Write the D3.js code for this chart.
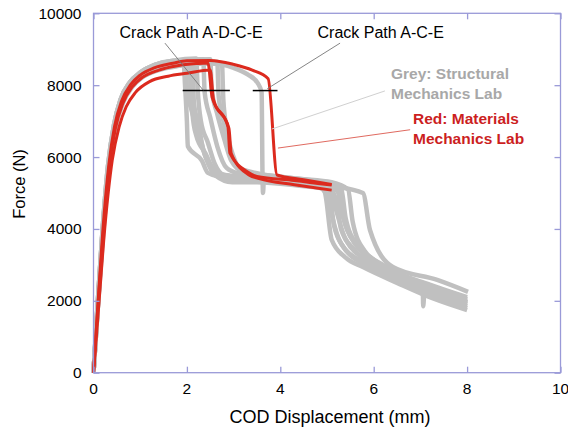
<!DOCTYPE html>
<html>
<head>
<meta charset="utf-8">
<script src="https://cdn.jsdelivr.net/npm/d3@7"></script>
<style>
  body { margin: 0; background: #fff; }
  text { font-family: "Liberation Sans", Arial, sans-serif; }
</style>
</head>
<body>
<svg id="chart" width="568" height="429"></svg>
<script>
// tick values
const xTicks = [0, 2, 4, 6, 8, 10];
const yTicks = [0, 2000, 4000, 6000, 8000, 10000];

// grey curves: Structural Mechanics Lab tests [COD mm, force N]
const grey1 = [[0,0],[0.09,1900],[0.19,3850],[0.32,5750],[0.45,6850],[0.6,7550],[0.8,8000],[1.0,8250],[1.3,8470],[1.93,8620],[1.96,8000],[2.0,7000],[2.02,6300],[2.32,5900],[2.45,5560],[2.9,5400],[3.5,5350],[4.3,5250],[4.85,5150],[4.95,5030],[5.1,3700],[5.4,3200],[5.77,2940],[6.5,2500],[7.3,2050],[8.0,1740]];
const grey2 = [[0,0],[0.1,2000],[0.2,3900],[0.33,5800],[0.46,6850],[0.62,7550],[0.82,8000],[1.05,8280],[1.4,8480],[2.05,8680],[2.08,8000],[2.12,7200],[2.2,6600],[2.4,6100],[2.6,5600],[3.0,5450],[3.8,5350],[4.9,5200],[5.05,5000],[5.15,4100],[5.35,3500],[5.9,2950],[6.7,2450],[7.4,2100],[8.0,1800]];
const grey3 = [[0,0],[0.09,1950],[0.19,3900],[0.31,5750],[0.44,6900],[0.58,7600],[0.78,8080],[1.0,8350],[1.3,8560],[1.7,8680],[2.2,8740],[2.23,7900],[2.3,7000],[2.45,6400],[2.6,5800],[2.8,5500],[3.4,5450],[4.4,5320],[5.05,5180],[5.2,4500],[5.4,3700],[5.9,3100],[6.6,2650],[7.3,2250],[8.0,1950]];
const grey4 = [[0,0],[0.1,1950],[0.2,3900],[0.33,5800],[0.46,6850],[0.62,7550],[0.82,8000],[1.05,8280],[1.4,8500],[1.8,8620],[2.35,8720],[2.38,7800],[2.5,7100],[2.65,6300],[2.85,5700],[3.1,5550],[3.8,5450],[4.7,5330],[5.2,5220],[5.3,4600],[5.5,3800],[6.0,3150],[6.8,2600],[7.5,2250],[8.0,2000]];
const grey5 = [[0,0],[0.09,1950],[0.19,3900],[0.31,5750],[0.44,6900],[0.58,7600],[0.78,8080],[1.0,8350],[1.3,8560],[1.7,8680],[2.5,8720],[2.53,7900],[2.65,7200],[2.8,6500],[2.95,5900],[3.2,5600],[4.0,5450],[4.9,5300],[5.3,5150],[5.4,4300],[5.65,3550],[6.3,2900],[7.05,2350],[7.06,1850],[7.09,2330],[8.0,1950]];
const grey6 = [[0,0],[0.1,2000],[0.2,3900],[0.33,5800],[0.46,6850],[0.62,7550],[0.82,8000],[1.05,8280],[1.4,8480],[1.8,8580],[2.65,8650],[2.68,7700],[2.8,6900],[2.9,6200],[3.05,5750],[3.5,5550],[4.4,5400],[5.1,5300],[5.45,5100],[5.55,4200],[5.8,3400],[6.4,2850],[7.2,2450],[8.0,2100]];
const grey7 = [[0,0],[0.1,1950],[0.21,3900],[0.34,5750],[0.47,6800],[0.63,7500],[0.83,7950],[1.05,8220],[1.4,8420],[1.8,8530],[2.5,8600],[3.0,8480],[3.3,8300],[3.52,8050],[3.6,7800],[3.62,5400],[3.63,5000],[3.65,5450],[4.5,5320],[5.1,5200],[5.77,5000],[5.92,3970],[6.41,2940],[7.36,2580],[8.02,2250]];
const grey8 = [[0,0],[0.09,1900],[0.19,3850],[0.32,5750],[0.45,6850],[0.6,7550],[0.8,8000],[1.0,8250],[1.3,8470],[1.7,8600],[2.75,8620],[2.78,7600],[2.85,6800],[3.0,6000],[3.2,5600],[3.6,5500],[4.5,5350],[5.0,5250],[5.25,5000],[5.35,4300],[5.6,3600],[6.2,3000],[7.0,2500],[7.7,2200],[8.0,2050]];
const grey9 = [[0,0],[0.1,2000],[0.2,3900],[0.33,5800],[0.46,6850],[0.62,7550],[0.82,8000],[1.05,8280],[1.4,8480],[1.98,8600],[2.0,7900],[2.1,7300],[2.25,6700],[2.4,6000],[2.6,5500],[2.97,5300],[3.5,5300],[4.4,5200],[5.0,5100],[5.12,4300],[5.3,3600],[5.8,3050],[6.6,2550],[7.4,2150],[8.0,1850]];
const grey10 = [[0,0],[0.09,1950],[0.19,3900],[0.31,5750],[0.44,6900],[0.58,7600],[0.78,8080],[1.0,8350],[1.3,8560],[1.7,8660],[2.12,8680],[2.15,7500],[2.25,6900],[2.35,6200],[2.55,5700],[2.8,5450],[3.4,5400],[4.3,5300],[5.0,5200],[5.2,4800],[5.3,4000],[5.6,3400],[6.2,2850],[7.0,2400],[7.6,2100],[8.0,1900]];
const greyCurves = [grey1, grey2, grey3, grey4, grey5, grey6, grey7, grey8, grey9, grey10];

// red curves: Materials Mechanics Lab tests
const redACE = [[0,0],[0.1,2000],[0.2,3950],[0.33,5800],[0.45,6850],[0.6,7550],[0.8,8020],[1.0,8280],[1.3,8480],[1.7,8610],[2.0,8680],[2.5,8690],[3.0,8580],[3.4,8420],[3.74,8180],[3.93,5500],[4.5,5370],[5.1,5240]];
const redADCE1 = [[0,0],[0.1,1950],[0.21,3900],[0.34,5750],[0.47,6800],[0.63,7500],[0.83,7950],[1.05,8220],[1.4,8420],[1.8,8540],[2.2,8600],[2.45,8620],[2.54,7670],[2.88,6840],[2.92,6110],[3.31,5580],[3.5,5460],[4.3,5350],[5.1,5220]];
const redADCE2 = [[0,0],[0.12,2000],[0.24,4000],[0.4,5900],[0.55,6850],[0.7,7400],[0.9,7800],[1.2,8100],[1.6,8250],[2.0,8330],[2.5,8420],[2.57,7600],[2.9,6800],[2.95,6100],[3.33,5500],[3.55,5400],[4.3,5230],[5.1,5080]];
const redCurves = [redACE, redADCE1, redADCE2];

// crack path markers (COD range at force level)
const markerForce = 7850;
const markerRanges = [[1.91, 2.92], [3.41, 3.94]];

// annotation labels and leader lines [x1, y1, x2, y2] in data units
const crackLabels = ["Crack Path A-D-C-E", "Crack Path A-C-E"];
const crackLabelX = [2.09, 6.15];
const crackLeaders = [[1.53, 9170, 2.35, 7860], [5.28, 9170, 3.72, 7900]];
const greyLabel = ["Grey: Structural", "Mechanics Lab"];
const redLabel = ["Red: Materials", "Mechanics Lab"];
const greyLeader = [6.24, 7840, 3.82, 6780];
const redLeader = [6.78, 6760, 3.95, 6250];

const svg = d3.select('#chart');
const plotLeft = 93.5, plotRight = 560.5, plotTop = 13.3, plotBottom = 372.7;
const x = d3.scaleLinear().domain([0, 10]).range([plotLeft, plotRight]);
const y = d3.scaleLinear().domain([0, 10000]).range([plotBottom, plotTop]);
const frameColor = '#9a9ad8';

const line = d3.line()
  .curve(d3.curveMonotoneX)
  .x(d => x(d[0]))
  .y(d => y(d[1]));

// grey curves
svg.append('g')
  .selectAll('path')
  .data(greyCurves)
  .join('path')
  .attr('fill', 'none')
  .attr('stroke', '#c0c0c0')
  .attr('stroke-width', 4.5)
  .attr('stroke-linejoin', 'round')
  .attr('d', line);

// red curves
svg.append('g')
  .selectAll('path')
  .data(redCurves)
  .join('path')
  .attr('fill', 'none')
  .attr('stroke', '#dc2a1e')
  .attr('stroke-width', 3)
  .attr('stroke-linejoin', 'round')
  .attr('d', line);

// frame
svg.append('rect')
  .attr('x', plotLeft).attr('y', plotTop)
  .attr('width', plotRight - plotLeft).attr('height', plotBottom - plotTop)
  .attr('fill', 'none')
  .attr('stroke', frameColor)
  .attr('stroke-width', 1.3);

// axes with inward ticks
const tickLen = 6;
svg.append('g')
  .attr('transform', 'translate(0,' + plotBottom + ')')
  .call(d3.axisTop(x).tickValues(xTicks).tickSize(tickLen).tickFormat(''))
  .call(g => g.select('.domain').remove());
svg.append('g')
  .attr('transform', 'translate(0,' + plotTop + ')')
  .call(d3.axisBottom(x).tickValues(xTicks).tickSize(tickLen).tickFormat(''))
  .call(g => g.select('.domain').remove());
svg.append('g')
  .attr('transform', 'translate(' + plotLeft + ',0)')
  .call(d3.axisRight(y).tickValues(yTicks).tickSize(tickLen).tickFormat(''))
  .call(g => g.select('.domain').remove());
svg.append('g')
  .attr('transform', 'translate(' + plotRight + ',0)')
  .call(d3.axisLeft(y).tickValues(yTicks).tickSize(tickLen).tickFormat(''))
  .call(g => g.select('.domain').remove());
svg.selectAll('.tick line').attr('stroke', frameColor).attr('stroke-width', 1.3);

// tick labels
svg.append('g')
  .selectAll('text')
  .data(xTicks)
  .join('text')
  .attr('x', d => x(d))
  .attr('y', plotBottom + 21)
  .attr('text-anchor', 'middle')
  .attr('font-size', 15.5)
  .text(d => d);
svg.append('g')
  .selectAll('text')
  .data(yTicks)
  .join('text')
  .attr('x', plotLeft - 12)
  .attr('y', d => y(d) + 5.5)
  .attr('text-anchor', 'end')
  .attr('font-size', 15.5)
  .text(d => d);

// axis titles
svg.append('text')
  .attr('x', 330)
  .attr('y', 423)
  .attr('text-anchor', 'middle')
  .attr('font-size', 18)
  .text('COD Displacement (mm)');
svg.append('text')
  .attr('transform', 'translate(25,184) rotate(-90)')
  .attr('text-anchor', 'middle')
  .attr('font-size', 16.5)
  .text('Force (N)');

// crack path markers
svg.append('g')
  .selectAll('line')
  .data(markerRanges)
  .join('line')
  .attr('x1', d => x(d[0])).attr('x2', d => x(d[1]))
  .attr('y1', y(markerForce)).attr('y2', y(markerForce))
  .attr('stroke', '#000')
  .attr('stroke-width', 1.5);

// leader lines
svg.append('g')
  .selectAll('line')
  .data(crackLeaders)
  .join('line')
  .attr('x1', d => x(d[0])).attr('y1', d => y(d[1]))
  .attr('x2', d => x(d[2])).attr('y2', d => y(d[3]))
  .attr('stroke', '#777')
  .attr('stroke-width', 0.9);
svg.append('line')
  .attr('x1', x(greyLeader[0])).attr('y1', y(greyLeader[1]))
  .attr('x2', x(greyLeader[2])).attr('y2', y(greyLeader[3]))
  .attr('stroke', '#d0d0d0')
  .attr('stroke-width', 1);
svg.append('line')
  .attr('x1', x(redLeader[0])).attr('y1', y(redLeader[1]))
  .attr('x2', x(redLeader[2])).attr('y2', y(redLeader[3]))
  .attr('stroke', '#e06a60')
  .attr('stroke-width', 1);

// crack path labels
svg.append('g')
  .selectAll('text')
  .data(crackLabels)
  .join('text')
  .attr('x', (d, i) => x(crackLabelX[i]))
  .attr('y', 38)
  .attr('text-anchor', 'middle')
  .attr('font-size', 16)
  .text(d => d);

// lab labels
svg.append('g')
  .selectAll('text')
  .data(greyLabel)
  .join('text')
  .attr('x', 391)
  .attr('y', (d, i) => 79 + i * 19.5)
  .attr('font-size', 15.5)
  .attr('font-weight', 'bold')
  .attr('fill', '#a8a8a8')
  .text(d => d);
svg.append('g')
  .selectAll('text')
  .data(redLabel)
  .join('text')
  .attr('x', 413)
  .attr('y', (d, i) => 124 + i * 19.5)
  .attr('font-size', 15.5)
  .attr('font-weight', 'bold')
  .attr('fill', '#cc1f1f')
  .text(d => d);
</script>
</body>
</html>
